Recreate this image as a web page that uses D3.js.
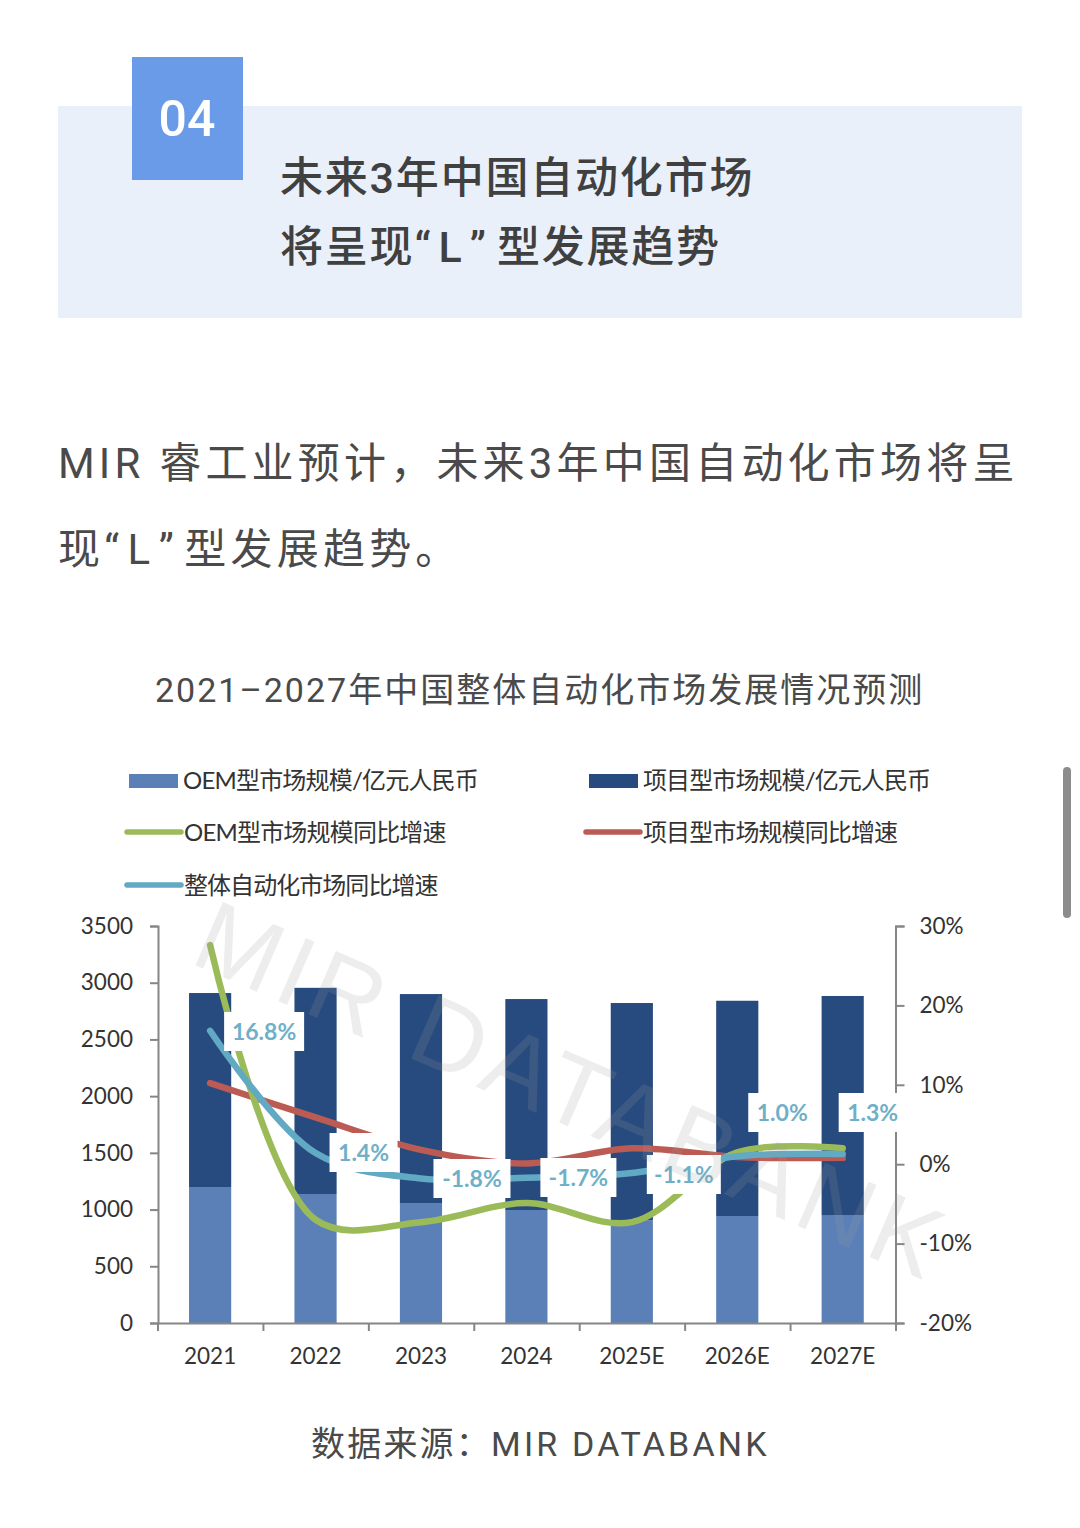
<!DOCTYPE html>
<html>
<head>
<meta charset="utf-8">
<title>2021-2027年中国整体自动化市场发展情况预测</title>
<script src="https://d3js.org/d3.v7.min.js"></script>
<style>
  html, body { margin: 0; padding: 0; background: #fff; overflow: hidden; }
  text { font-family: Roboto, "Noto Sans CJK SC", sans-serif; }
  .tick text, .num, .legend { font-family: Lato, "Noto Sans CJK SC", sans-serif; }
</style>
</head>
<body>
<svg id="chart" width="1080" height="1528"></svg>
<script>
// data
var categories = ["2021", "2022", "2023", "2024", "2025E", "2026E", "2027E"];
var oemSize = [1199, 1137, 1058, 996, 905, 943, 952];
var projectSize = [1710, 1818, 1842, 1860, 1916, 1898, 1931];
var oemGrowth = [27.6, -7.0, -7.3, -4.9, -7.3, 1.5, 2.0];
var projectGrowth = [10.2, 5.9, 1.8, 0.1, 2.0, 0.9, 0.8];
var totalGrowth = [16.8, 1.4, -1.8, -1.7, -1.1, 1.0, 1.3];
var totalLabels = ["16.8%", "1.4%", "-1.8%", "-1.7%", "-1.1%", "1.0%", "1.3%"];
var sizeTicks = [0, 500, 1000, 1500, 2000, 2500, 3000, 3500];
var growthTicks = [-20, -10, 0, 10, 20, 30];

var blueLight = "#5b80b8", blueDark = "#284b7f";
var green = "#9bbb59", red = "#bc5b54", teal = "#62a9c4";

var svg = d3.select("#chart");

// header block
svg.append("rect").attr("x", 58).attr("y", 106).attr("width", 964).attr("height", 212).attr("fill", "#e9f0fa");
svg.append("rect").attr("x", 132).attr("y", 57).attr("width", 111).attr("height", 123).attr("fill", "#6a9be9");
svg.append("text").attr("x", 187).attr("y", 136).attr("text-anchor", "middle")
  .attr("fill", "#fff").attr("font-weight", 500).attr("font-size", 50).text("04");

function para(txt, x, y, size, spacing, weight, fill) {
  return svg.append("text").attr("x", x).attr("y", y).attr("font-size", size)
    .attr("letter-spacing", spacing).attr("font-weight", weight).attr("fill", fill).text(txt);
}
// line with the “L” pulled apart, the Latin quotes are narrower than the original ones
function quoted(before, after, x, y, size, spacing, weight, fill, gap) {
  var t = para(before, x, y, size, spacing, weight, fill);
  t.append("tspan").text("“");
  t.append("tspan").attr("dx", gap).text("L");
  t.append("tspan").attr("dx", gap).text("”");
  t.append("tspan").attr("dx", gap * 1.5).text(after);
}
para("未来3年中国自动化市场", 280, 193, 43, 1.8, 500, "#404040");
quoted("将呈现", "型发展趋势", 280, 262, 43, 1.8, 500, "#404040", 6);
para("MIR 睿工业预计，未来3年中国自动化市场将呈", 58, 478, 42, 4.2, 400, "#4a4a4a");
quoted("现", "型发展趋势。", 58, 564, 42, 4.2, 400, "#4a4a4a", 4.3);
para("2021–2027年中国整体自动化市场发展情况预测", 155, 702, 34, 2.0, 400, "#4a4a4a");
var source = para("数据来源：", 311, 1456, 34, 2.2, 400, "#4a4a4a");
source.append("tspan").attr("x", 491).attr("letter-spacing", 3.2).text("MIR DATABANK");

// scrollbar
svg.append("rect").attr("x", 1063).attr("y", 767).attr("width", 8).attr("height", 151).attr("rx", 4).attr("fill", "#8c8c8c");

// scales
var x = d3.scaleBand().domain(categories).range([157.4, 895.4]).paddingInner(0.6).paddingOuter(0.3);
var ySize = d3.scaleLinear().domain([0, 3500]).range([1323, 926]);
var yGrowth = d3.scaleLinear().domain([-20, 30]).range([1323, 926]);

// stacked bars
var rows = categories.map(function(c, i) { return { cat: c, oem: oemSize[i], project: projectSize[i] }; });
var stacked = d3.stack().keys(["oem", "project"])(rows);
var barColor = { oem: blueLight, project: blueDark };
svg.append("g").selectAll("g").data(stacked).enter().append("g")
  .attr("fill", function(s) { return barColor[s.key]; })
  .selectAll("rect").data(function(s) { return s; }).enter().append("rect")
  .attr("x", function(d) { return x(d.data.cat); })
  .attr("y", function(d) { return ySize(d[1]); })
  .attr("width", x.bandwidth())
  .attr("height", function(d) { return ySize(d[0]) - ySize(d[1]); });

// axes
var axisColor = "#868686";
function styleAxis(g) {
  g.selectAll("path, line").attr("stroke", axisColor).attr("stroke-width", 2);
  g.selectAll("text").attr("fill", "#333").attr("font-size", 22.5);
}
svg.append("g").attr("transform", "translate(158,0)")
  .call(d3.axisLeft(ySize).tickValues(sizeTicks).tickSize(8).tickPadding(17).tickFormat(d3.format("d")))
  .call(styleAxis);
svg.append("g").attr("transform", "translate(895.5,0)")
  .call(d3.axisRight(yGrowth).tickValues(growthTicks).tickSize(9).tickPadding(15).tickFormat(function(d) { return d + "%"; }))
  .call(styleAxis);
var bottomAxis = svg.append("g").attr("transform", "translate(0,1323)")
  .call(d3.axisBottom(x).tickSize(0).tickPadding(25))
  .call(styleAxis);
// x ticks sit on the band edges
var edges = d3.range(categories.length + 1).map(function(i) { return 158 + i * x.step(); });
bottomAxis.selectAll("line.edge").data(edges).enter().append("line").attr("class", "edge")
  .attr("x1", function(d) { return d; }).attr("x2", function(d) { return d; })
  .attr("y1", 0).attr("y2", 8).attr("stroke", axisColor).attr("stroke-width", 2);

// smooth growth lines
var line = d3.line()
  .x(function(d, i) { return x(categories[i]) + x.bandwidth() / 2; })
  .y(function(d) { return yGrowth(d); })
  .curve(d3.curveCatmullRom.alpha(0.5));
[[projectGrowth, red], [oemGrowth, green], [totalGrowth, teal]].forEach(function(s) {
  svg.append("path").attr("d", line(s[0])).attr("fill", "none").attr("stroke", s[1])
    .attr("stroke-width", 6.5).attr("stroke-linecap", "round");
});

// white label boxes for the total growth line: [dx from category centre, y, width]
var labelPlace = [[54, 1032, 80], [48, 1153, 68], [51, 1179, 77], [52, 1178, 76], [52, 1175, 74], [45, 1113, 68], [30, 1113, 68]];
var labelG = svg.append("g").selectAll("g").data(totalLabels).enter().append("g")
  .attr("transform", function(d, i) {
    return "translate(" + (x(categories[i]) + x.bandwidth() / 2 + labelPlace[i][0]) + "," + labelPlace[i][1] + ")";
  });
labelG.append("rect").attr("x", function(d, i) { return -labelPlace[i][2] / 2; }).attr("y", -20)
  .attr("width", function(d, i) { return labelPlace[i][2]; }).attr("height", 39).attr("fill", "#fff");
labelG.append("text").attr("class", "num").attr("text-anchor", "middle").attr("dy", 8)
  .attr("font-size", 23).attr("font-weight", 700).attr("fill", "#6fb0c8").text(function(d) { return d; });

// watermark over the plot
svg.append("text").attr("transform", "translate(188,962) rotate(23.4)")
  .style("font-family", "'Liberation Sans'").attr("font-size", 100).attr("letter-spacing", 6)
  .attr("fill", "#9a9a9a").attr("fill-opacity", 0.18).text("MIR DATABANK");

// legend
var legendBars = [["OEM型市场规模/亿元人民币", blueLight, 129, -0.8], ["项目型市场规模/亿元人民币", blueDark, 589, -0.9]];
var legendLines = [["OEM型市场规模同比增速", green, 127, 832, -0.8], ["项目型市场规模同比增速", red, 586, 832, -0.9], ["整体自动化市场同比增速", teal, 127, 885, -0.95]];
legendBars.forEach(function(l) {
  svg.append("rect").attr("x", l[2]).attr("y", 774).attr("width", 49).attr("height", 14).attr("fill", l[1]);
  svg.append("text").attr("class", "legend").attr("x", l[2] + 54).attr("y", 789).attr("font-size", 24).attr("letter-spacing", l[3]).attr("fill", "#333").text(l[0]);
});
legendLines.forEach(function(l) {
  svg.append("line").attr("x1", l[2]).attr("x2", l[2] + 54).attr("y1", l[3]).attr("y2", l[3])
    .attr("stroke", l[1]).attr("stroke-width", 5.5).attr("stroke-linecap", "round");
  svg.append("text").attr("class", "legend").attr("x", l[2] + 57).attr("y", l[3] + 9).attr("font-size", 24).attr("letter-spacing", l[4]).attr("fill", "#333").text(l[0]);
});
</script>
</body>
</html>
